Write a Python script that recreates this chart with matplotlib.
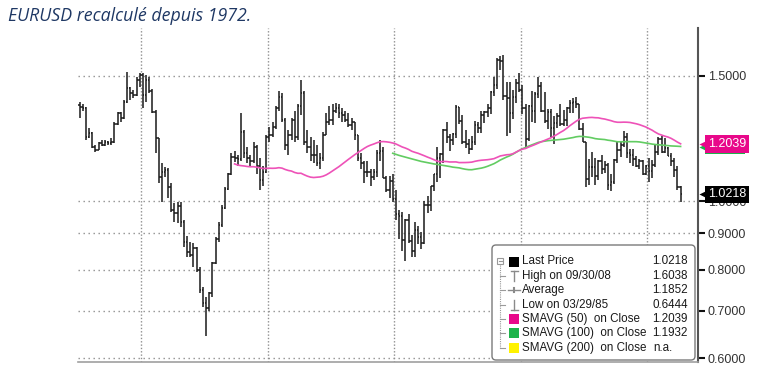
import numpy as np
import pandas as pd
import matplotlib
matplotlib.use("Agg")
import matplotlib.pyplot as plt
from matplotlib.patches import FancyBboxPatch, Rectangle
from matplotlib.transforms import blended_transform_factory
from matplotlib.ticker import FixedLocator, FixedFormatter, NullLocator

plt.rcParams['font.family'] = ['Liberation Sans', 'DejaVu Sans']

# ---------------- data (quarterly bars, 1975Q1 .. 2022Q3) ----------------
start_year = 1975
first_open = 1.365

highs = [
    1.380, 1.368, 1.358, 1.266, 1.250, 1.199, 1.212, 1.219,
    1.219, 1.215, 1.225, 1.290, 1.336, 1.336, 1.388, 1.521,
    1.449, 1.433, 1.497, 1.513, 1.516, 1.505, 1.497, 1.440,
    1.343, 1.226, 1.130, 1.118, 1.112, 1.059, 0.993, 0.998,
    0.998, 0.940, 0.893, 0.876, 0.872, 0.862, 0.808, 0.757,
    0.733, 0.745, 0.821, 0.891, 0.935, 0.987, 1.047, 1.094,
    1.167, 1.175, 1.160, 1.329, 1.260, 1.190, 1.160, 1.210,
    1.200, 1.150, 1.120, 1.240, 1.270, 1.290, 1.360, 1.430,
    1.420, 1.310, 1.260, 1.310, 1.340, 1.370, 1.480, 1.430,
    1.260, 1.230, 1.220, 1.200, 1.170, 1.250, 1.330, 1.360,
    1.370, 1.375, 1.370, 1.350, 1.340, 1.330, 1.310, 1.290,
    1.240, 1.170, 1.140, 1.140, 1.110, 1.110, 1.180, 1.220,
    1.1906, 1.0845, 1.0842, 1.0900, 1.0350, 0.9708, 0.9640, 0.9445,
    0.9594, 0.8951, 0.9335, 0.9230, 0.9050, 0.9984, 1.0151, 1.0499,
    1.0930, 1.1933, 1.1690, 1.2647, 1.2930, 1.2420, 1.2470, 1.3667,
    1.3580, 1.3210, 1.2590, 1.2240, 1.2330, 1.2980, 1.2940, 1.3370,
    1.3390, 1.3680, 1.4280, 1.4970, 1.5900, 1.6020, 1.6038, 1.4720,
    1.4720, 1.4340, 1.4840, 1.5140, 1.4580, 1.3690, 1.3660, 1.4280,
    1.4250, 1.4940, 1.4700, 1.4250, 1.3490, 1.3480, 1.3170, 1.3310,
    1.3710, 1.3420, 1.3570, 1.3890, 1.3970, 1.3990, 1.3700, 1.2890,
    1.2100, 1.1470, 1.1710, 1.1490, 1.1440, 1.1620, 1.1370, 1.1300,
    1.0910, 1.1450, 1.2090, 1.2090, 1.2560, 1.2480, 1.1850, 1.1820,
    1.1570, 1.1450, 1.1410, 1.1240, 1.1500, 1.1420, 1.2010, 1.2310,
    1.2350, 1.2270, 1.1910, 1.1690, 1.1490, 1.1190, 1.0490,
]
lows = [
    1.308, 1.340, 1.219, 1.226, 1.186, 1.173, 1.178, 1.195,
    1.197, 1.199, 1.200, 1.206, 1.280, 1.293, 1.305, 1.373,
    1.388, 1.395, 1.405, 1.449, 1.351, 1.380, 1.420, 1.329,
    1.167, 1.059, 0.998, 1.082, 1.009, 0.966, 0.935, 0.930,
    0.920, 0.862, 0.835, 0.835, 0.808, 0.795, 0.741, 0.710,
    0.6444, 0.699, 0.733, 0.815, 0.876, 0.920, 0.975, 1.036,
    1.088, 1.135, 1.120, 1.140, 1.150, 1.130, 1.120, 1.130,
    1.090, 1.036, 1.050, 1.095, 1.210, 1.230, 1.265, 1.340,
    1.290, 1.180, 1.160, 1.220, 1.210, 1.220, 1.320, 1.200,
    1.170, 1.140, 1.130, 1.120, 1.110, 1.140, 1.240, 1.280,
    1.280, 1.330, 1.310, 1.290, 1.290, 1.270, 1.260, 1.220,
    1.140, 1.110, 1.060, 1.080, 1.050, 1.070, 1.080, 1.140,
    1.0765, 1.0293, 1.0105, 0.9980, 0.9390, 0.8845, 0.8513, 0.8230,
    0.8730, 0.8345, 0.8345, 0.8694, 0.8564, 0.8702, 0.9607, 0.9685,
    1.0335, 1.0623, 1.0763, 1.1310, 1.2080, 1.1760, 1.2010, 1.2280,
    1.2850, 1.2030, 1.1870, 1.1640, 1.1800, 1.2000, 1.2450, 1.2480,
    1.2860, 1.3150, 1.3260, 1.4060, 1.4360, 1.5280, 1.3880, 1.2330,
    1.2460, 1.3030, 1.3750, 1.4220, 1.3270, 1.1880, 1.2150, 1.2910,
    1.2860, 1.3970, 1.3360, 1.2860, 1.2620, 1.2290, 1.2040, 1.2660,
    1.2750, 1.2750, 1.2760, 1.3300, 1.3300, 1.3500, 1.2590, 1.2090,
    1.0460, 1.0520, 1.0810, 1.0520, 1.0710, 1.0910, 1.0950, 1.0350,
    1.0340, 1.0570, 1.1310, 1.1550, 1.1920, 1.1510, 1.1300, 1.1210,
    1.1180, 1.1100, 1.0880, 1.0880, 1.0640, 1.0770, 1.1180, 1.1610,
    1.1700, 1.1700, 1.1560, 1.1190, 1.0810, 1.0350, 0.9952,
]
closes = [
    1.358, 1.352, 1.232, 1.245, 1.190, 1.180, 1.206, 1.200,
    1.210, 1.206, 1.212, 1.285, 1.329, 1.310, 1.380, 1.441,
    1.418, 1.410, 1.481, 1.505, 1.410, 1.480, 1.430, 1.336,
    1.226, 1.082, 1.100, 1.106, 1.047, 0.971, 0.961, 0.985,
    0.935, 0.876, 0.848, 0.840, 0.858, 0.800, 0.749, 0.718,
    0.706, 0.741, 0.817, 0.885, 0.925, 0.978, 1.040, 1.090,
    1.155, 1.150, 1.145, 1.250, 1.170, 1.150, 1.140, 1.190,
    1.120, 1.070, 1.100, 1.230, 1.240, 1.270, 1.350, 1.400,
    1.300, 1.200, 1.240, 1.300, 1.230, 1.360, 1.420, 1.210,
    1.190, 1.160, 1.160, 1.130, 1.150, 1.240, 1.290, 1.300,
    1.340, 1.350, 1.330, 1.320, 1.300, 1.280, 1.290, 1.240,
    1.150, 1.130, 1.100, 1.100, 1.080, 1.100, 1.170, 1.175,
    1.0766, 1.0358, 1.0681, 1.0070, 0.9573, 0.9532, 0.8826, 0.9388,
    0.8776, 0.8490, 0.9110, 0.8901, 0.8723, 0.9860, 0.9865, 1.0487,
    1.0907, 1.1500, 1.1650, 1.2597, 1.2300, 1.2170, 1.2430, 1.3560,
    1.2960, 1.2100, 1.2020, 1.1840, 1.2120, 1.2790, 1.2680, 1.3200,
    1.3350, 1.3540, 1.4260, 1.4590, 1.5790, 1.5760, 1.4080, 1.3970,
    1.3290, 1.4030, 1.4640, 1.4330, 1.3510, 1.2230, 1.3630, 1.3380,
    1.4170, 1.4500, 1.3390, 1.2960, 1.3340, 1.2670, 1.2860, 1.3190,
    1.2820, 1.3010, 1.3530, 1.3750, 1.3770, 1.3690, 1.2630, 1.2100,
    1.0730, 1.1150, 1.1180, 1.0860, 1.1380, 1.1100, 1.1240, 1.0520,
    1.0650, 1.1410, 1.1810, 1.2010, 1.2320, 1.1680, 1.1600, 1.1470,
    1.1220, 1.1370, 1.0900, 1.1210, 1.1030, 1.1230, 1.1720, 1.2220,
    1.1730, 1.1860, 1.1580, 1.1370, 1.1070, 1.0480, 1.0218,
]

ytick_values = [0.6, 0.7, 0.8, 0.9, 1.0, 1.5]
ytick_labels = ["0.6000", "0.7000", "0.8000", "0.9000", "1.0000", "1.5000"]
xgrid_years = [1980, 1990, 2000, 2010, 2020]

legend_labels = ["Last Price", "High on 09/30/08", "Average", "Low on 03/29/85",
                 "SMAVG (50)  on Close", "SMAVG (100)  on Close", "SMAVG (200)  on Close"]
legend_values = ["1.0218", "1.6038", "1.1852", "0.6444", "1.2039", "1.1932", "n.a."]

title = "EURUSD recalculé depuis 1972."

# ---------------- styles ----------------
BAR_C = '#1a1a1a'
PINK_LINE = '#EE52B8'
GREEN_LINE = '#62CC62'
PINK_BOX = '#E8088A'
GREEN_BOX = '#1DB34A'
YELLOW_BOX = '#FFF200'
GRID_C = '#8f8f8f'

W, H = 760, 372
fig = plt.figure(figsize=(W / 100, H / 100), dpi=100)
fig.patch.set_facecolor('white')

ax = fig.add_axes([78 / W, 10 / H, 620 / W, 334 / H])

n = len(closes)
t = start_year + (np.arange(n) + 0.5) / 4.0
hi = np.array(highs)
lo = np.array(lows)
cl = np.array(closes)
op = np.array([first_open] + closes[:-1])

hw = 0.11
ax.vlines(t, lo, hi, color=BAR_C, lw=1.1, zorder=2)
ax.hlines(op, t - hw, t, color=BAR_C, lw=1.1, zorder=2)
ax.hlines(cl, t, t + hw, color=BAR_C, lw=1.1, zorder=2)

s = pd.Series(closes)
sma50 = s.rolling(50).mean()
sma100 = s.rolling(100).mean()
ax.plot(t, sma100, color=GREEN_LINE, lw=1.2, zorder=3)
ax.plot(t, sma50, color=PINK_LINE, lw=1.2, zorder=3)

ax.set_yscale('log')
ax.set_ylim(0.5932, 1.7527)
ax.set_xlim(1975, 2024)

for sp in ['top', 'left']:
    ax.spines[sp].set_visible(False)
ax.spines['bottom'].set_color('#a0a0a0')
ax.spines['bottom'].set_linewidth(1.2)
ax.spines['right'].set_color('#555555')
ax.spines['right'].set_linewidth(1.5)

ax.yaxis.tick_right()
ax.yaxis.set_major_locator(FixedLocator(ytick_values))
ax.yaxis.set_major_formatter(FixedFormatter(ytick_labels))
ax.yaxis.set_minor_locator(NullLocator())
ax.tick_params(axis='y', which='major', length=5, width=1.5, color='#111111',
               pad=2, labelsize=9, labelcolor='#333333')
ax.set_xticks(xgrid_years)
ax.xaxis.set_minor_locator(NullLocator())
ax.tick_params(axis='x', length=0, labelbottom=False)

ax.grid(axis='y', linestyle=(0, (1, 2.6)), color=GRID_C, lw=1.0)
ax.grid(axis='x', linestyle=(0, (1, 1.4)), color=GRID_C, lw=1.0)
ax.set_axisbelow(True)

# ---------------- value boxes on right axis ----------------
trans = blended_transform_factory(ax.transAxes, ax.transData)
box_x0 = (705 - 78) / 620
box_w = 40 / 620
half_h = np.exp(7.5 / 308.3)

# SMAVG(100) box (mostly hidden below the SMAVG(50) box)
v100 = float(legend_values[5])
ax.add_patch(Rectangle((box_x0, v100 / half_h), box_w, v100 * half_h - v100 / half_h,
                       transform=trans, fc=GREEN_BOX, ec='none', clip_on=False, zorder=5))
ax.plot([1.0065], [v100], marker='<', ms=5, color=GREEN_BOX, transform=trans,
        clip_on=False, zorder=5, mec='none')

for yv, txt, col in [(float(legend_values[4]), legend_values[4], PINK_BOX),
                     (float(legend_values[0]), legend_values[0], '#000000')]:
    ax.text(1.0161, yv, txt, transform=trans, ha='left', va='center',
            fontsize=9, color='white', clip_on=False, zorder=6,
            bbox=dict(boxstyle='square,pad=0.22', fc=col, ec='none'))
    ax.plot([1.0065], [yv], marker='<', ms=5, color=col, transform=trans,
            clip_on=False, zorder=6, mec='none')

# ---------------- title ----------------
fig.text(8 / W, 1 - 16 / H, title, fontsize=12.8, style='italic',
         family=['Open Sans', 'DejaVu Sans'], color='#1F3864',
         ha='left', va='center')

# ---------------- legend (overlay in pixel coords) ----------------
ov = fig.add_axes([0, 0, 1, 1], zorder=10)
ov.set_xlim(0, W)
ov.set_ylim(H, 0)
ov.axis('off')
ov.patch.set_alpha(0)

ov.add_patch(FancyBboxPatch((492, 245), 203, 115,
                            boxstyle='round,pad=0,rounding_size=4',
                            fc='white', ec='#7a7a7a', lw=1.0))
row_y0, row_dy = 261.5, 14.35
rows = [row_y0 + k * row_dy for k in range(len(legend_labels))]
tree_c = '#9a9a9a'
ov.plot([500, 500], [rows[0] + 3, rows[-1]], color=tree_c, lw=0.8, ls=(0, (1, 1)))
for ry in rows[1:]:
    ov.plot([500, 505], [ry, ry], color=tree_c, lw=0.8)
ov.add_patch(Rectangle((497, rows[0] - 4), 6, 6, fc='white', ec=tree_c, lw=0.8))
ov.plot([498.5, 501.5], [rows[0] - 1, rows[0] - 1], color=tree_c, lw=0.8)

sq = 10
icon_x = 509
sq_colors = {0: '#000000', 4: PINK_BOX, 5: GREEN_BOX, 6: YELLOW_BOX}
for k, ry in enumerate(rows):
    if k in sq_colors:
        ov.add_patch(Rectangle((icon_x, ry - sq / 2), sq, sq, fc=sq_colors[k], ec='none'))
gc = '#8a8a8a'
cx = icon_x + sq / 2
# High icon (T)
ov.plot([cx, cx], [rows[1] - 5, rows[1] + 5], color=gc, lw=1)
ov.plot([cx - 3.5, cx + 3.5], [rows[1] - 5, rows[1] - 5], color=gc, lw=1)
# Average icon (-+-)
ov.plot([cx - 6, cx + 6], [rows[2], rows[2]], color=gc, lw=1)
ov.plot([cx, cx], [rows[2] - 2, rows[2] + 2], color=gc, lw=1.5)
# Low icon (inverted T)
ov.plot([cx, cx], [rows[3] - 5, rows[3] + 5], color=gc, lw=1)
ov.plot([cx - 3.5, cx + 3.5], [rows[3] + 5, rows[3] + 5], color=gc, lw=1)

LFS = 8.4
for k, ry in enumerate(rows):
    ov.text(522, ry, legend_labels[k], fontsize=LFS, color='#1a1a1a', ha='left', va='center')
    if legend_values[k] == 'n.a.':
        ov.text(653, ry, legend_values[k], fontsize=LFS, color='#1a1a1a', ha='left', va='center')
    else:
        ov.text(688, ry, legend_values[k], fontsize=LFS, color='#1a1a1a', ha='right', va='center')

fig.savefig('out.png', dpi=100)
